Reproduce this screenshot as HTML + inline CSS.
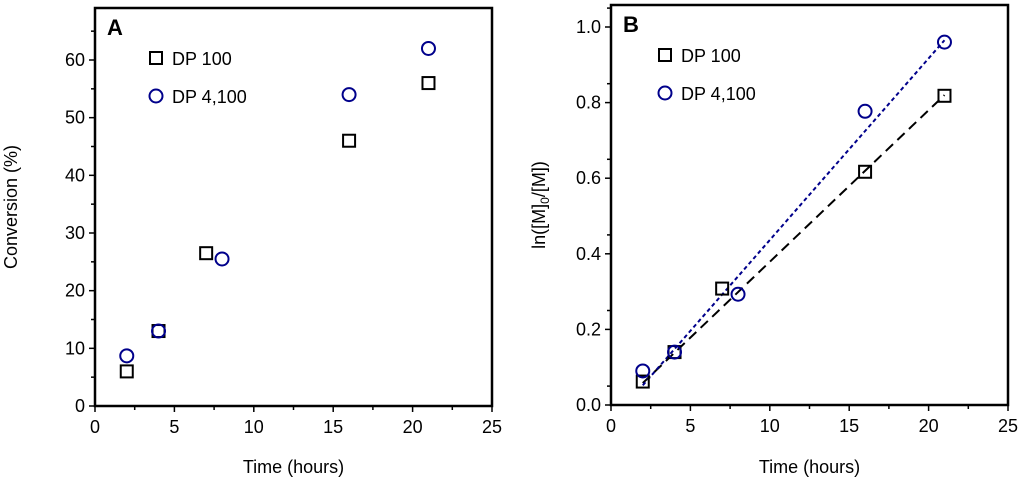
<!DOCTYPE html>
<html><head><meta charset="utf-8"><style>
body{margin:0;background:#fff;width:1024px;height:481px;overflow:hidden;font-family:"Liberation Sans",sans-serif}
svg text{font-family:"Liberation Sans",sans-serif}
</style></head><body>
<svg id="c" width="1024" height="481"></svg>
<script>
const timesA100=[2,4,7,16,21];
const convA100=[6,13,26.5,46,56];
const timesA4100=[2,4,8,16,21];
const convA4100=[8.7,13,25.5,54,62];
const timesB100=[2,4,7,16,21];
const lnB100=[0.062,0.14,0.308,0.617,0.818];
const timesB4100=[2,4,8,16,21];
const lnB4100=[0.09,0.14,0.293,0.777,0.96];
const fit100=[[2,0.058],[21,0.82]];
const fit4100=[[2,0.052],[21,0.965]];
const xTicks=[0,5,10,15,20,25];
const yTicksA=[0,10,20,30,40,50,60];
const yTicksB=[0,0.2,0.4,0.6,0.8,1.0];
const NS="http://www.w3.org/2000/svg";
const svg=document.getElementById('c');
function mk(t,a,p){const e=document.createElementNS(NS,t);for(const k in a)e.setAttribute(k,a[k]);(p||svg).appendChild(e);return e;}
function panel(o){
  const g=mk('g',{});
  
  
  const X=v=>o.x0+(v-0)/25*(o.x1-o.x0);
  const Y=v=>o.y0-(v-0)/(o.ymax)*(o.y0-o.ytop);
  const box=mk('rect',{x:o.x0,y:o.ytop,width:o.x1-o.x0,height:o.y0-o.ytop,fill:'none',stroke:'#000','stroke-width':2.5},g);
  
  for(let v=0;v<=25;v+=2.5){const major=v%5===0;mk('line',{x1:X(v),x2:X(v),y1:o.y0,y2:o.y0+(major?6:4),stroke:'#000','stroke-width':1.5},g);}
  xTicks.forEach(v=>{const t=mk('text',{x:X(v),y:o.y0+27,'text-anchor':'middle','font-size':18},g);t.textContent=v;});
  o.yt.forEach((v,i)=>{mk('line',{x1:o.x0-6,x2:o.x0,y1:Y(v),y2:Y(v),stroke:'#000','stroke-width':1.5},g);
    const m=v+o.step/2; if(m<o.ymax) mk('line',{x1:o.x0-4,x2:o.x0,y1:Y(m),y2:Y(m),stroke:'#000','stroke-width':1.5},g);
    const t=mk('text',{x:o.x0-10,y:Y(v)+6,'text-anchor':'end','font-size':18},g);t.textContent=o.fmt(v);});
  const xt=mk('text',{x:(o.x0+o.x1)/2,y:473,'text-anchor':'middle','font-size':18},g);xt.textContent='Time (hours)';
  
  const yt=mk('text',{x:0,y:0,'text-anchor':'middle','font-size':18,transform:`translate(${o.ytx},${(o.y0+o.ytop)/2}) rotate(-90)`},g);yt.innerHTML=o.ylabel;
  
  const L=mk('text',{x:o.x0+12,y:o.ytop+27,'font-size':22,'font-weight':'bold'},g);L.textContent=o.letter;
  
  if(o.fits){o.fits.forEach((f,i)=>{const l=mk('line',{x1:X(f[0][0]),y1:Y(f[0][1]),x2:X(f[1][0]),y2:Y(f[1][1]),stroke:i?'#00008b':'#000','stroke-width':2,'stroke-dasharray':i?'4,3':'10,6'},g);
    });}
  o.t1.forEach((t,i)=>{const r=mk('rect',{x:X(t)-6,y:Y(o.v1[i])-6,width:12,height:12,fill:'none',stroke:'#000','stroke-width':2},g);
    });
  o.t2.forEach((t,i)=>{const c=mk('circle',{cx:X(t),cy:Y(o.v2[i]),r:6.5,fill:'none',stroke:'#00008b','stroke-width':2},g);
    });
  const lx=o.x0+o.legx, ly=o.ytop+50;
  const lg=mk('g',{},g);
  mk('rect',{x:lx-6,y:ly-6,width:12,height:12,fill:'none',stroke:'#000','stroke-width':2},lg);
  let t1=mk('text',{x:lx+16,y:ly+7,'font-size':18},lg);t1.textContent='DP 100';
  mk('circle',{cx:lx,cy:ly+38,r:6.5,fill:'none',stroke:'#00008b','stroke-width':2},lg);
  let t2=mk('text',{x:lx+16,y:ly+45,'font-size':18},lg);t2.textContent='DP 4,100';
}
panel({name:'panel-a',letter:'A',x0:95,x1:492,y0:406,ytop:8,ymax:398/(346/60),step:10,yt:yTicksA,fmt:v=>v,
  ylabel:'Conversion (%)',ytx:17,legx:61,t1:timesA100,v1:convA100,t2:timesA4100,v2:convA4100});
panel({name:'panel-b',letter:'B',x0:611,x1:1008,y0:405,ytop:5,ymax:400/378,step:0.1,yt:yTicksB,fmt:v=>v.toFixed(1),
  ylabel:'ln([M]<tspan font-size="12" dy="4">0</tspan><tspan dy="-4">/[M])</tspan>',ytx:545,legx:54,
  t1:timesB100,v1:lnB100,t2:timesB4100,v2:lnB4100,fits:[fit100,fit4100]});
</script>
</body></html>
